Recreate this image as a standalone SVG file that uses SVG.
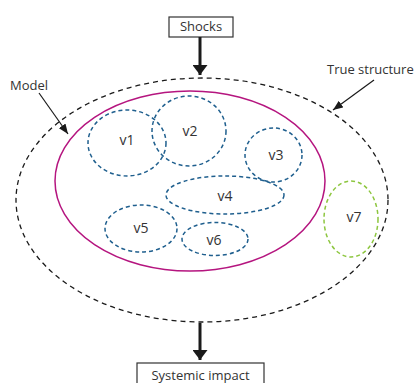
<svg xmlns="http://www.w3.org/2000/svg" width="415" height="383" viewBox="0 0 415 383">
<defs>
<marker id="big" viewBox="0 0 10 15" refX="10" refY="7.5" markerWidth="10" markerHeight="15" markerUnits="userSpaceOnUse" orient="auto">
<path d="M0,0 L10,7.5 L0,15 Z" fill="#1a1a1a"/>
</marker>
<marker id="small" viewBox="0 0 10 8" refX="10" refY="4" markerWidth="10" markerHeight="8" markerUnits="userSpaceOnUse" orient="auto">
<path d="M0,0 L10,4 L0,8 Z" fill="#1a1a1a"/>
</marker>
</defs>
<style>
text{font-family:"Open Sans","Noto Sans",sans-serif;fill:#333;}
.lbl{font-size:13px;}
.v{font-size:14px;text-anchor:middle;}
.box{fill:#fff;stroke:#333;stroke-width:1.2;}
.blue{fill:none;stroke:#1f5f8e;stroke-width:1.5;stroke-dasharray:4 3;}
.green{fill:none;stroke:#8dc63f;stroke-width:1.5;stroke-dasharray:4 3;}
.thick{stroke:#1a1a1a;stroke-width:3;fill:none;}
.thin{stroke:#1a1a1a;stroke-width:1.2;fill:none;}
</style>
<g id="true-structure">
<ellipse cx="202" cy="200" rx="186" ry="122" fill="none" stroke="#1a1a1a" stroke-width="1.3" stroke-dasharray="5 4"/>
</g>
<g id="model">
<ellipse cx="190" cy="181" rx="135" ry="90" fill="none" stroke="#b5157f" stroke-width="1.5"/>
</g>
<g id="v1"><ellipse class="blue" cx="127" cy="143" rx="39" ry="33"/><text class="v" x="127" y="145">v1</text></g>
<g id="v2"><ellipse class="blue" cx="189" cy="131" rx="37" ry="35"/><text class="v" x="190" y="136">v2</text></g>
<g id="v3"><ellipse class="blue" cx="273.5" cy="155" rx="28.5" ry="27"/><text class="v" x="276" y="160">v3</text></g>
<g id="v4"><ellipse class="blue" cx="225" cy="195" rx="59" ry="19"/><text class="v" x="225" y="201">v4</text></g>
<g id="v5"><ellipse class="blue" cx="141" cy="228.5" rx="36" ry="23.5"/><text class="v" x="141" y="233">v5</text></g>
<g id="v6"><ellipse class="blue" cx="215" cy="239" rx="33" ry="16.5"/><text class="v" x="214" y="245">v6</text></g>
<g id="v7"><ellipse class="green" cx="351" cy="219" rx="27" ry="38"/><text class="v" x="354" y="222">v7</text></g>
<g id="shocks"><rect class="box" x="169" y="17" width="64" height="20"/><text class="lbl" x="201" y="31" text-anchor="middle">Shocks</text></g>
<g id="systemic-impact"><rect class="box" x="137" y="363" width="127" height="24"/><text class="lbl" x="200.5" y="380" text-anchor="middle">Systemic impact</text></g>
<g id="model-label"><text class="lbl" x="10" y="90">Model</text></g>
<g id="true-structure-label"><text class="lbl" x="327" y="74">True structure</text></g>
<g id="connectors">
<line class="thick" x1="200" y1="37" x2="200" y2="75" marker-end="url(#big)"/>
<line class="thick" x1="200" y1="323" x2="200" y2="360" marker-end="url(#big)"/>
<line class="thin" x1="39" y1="93" x2="68" y2="134" marker-end="url(#small)"/>
<line class="thin" x1="374" y1="80" x2="333" y2="110" marker-end="url(#small)"/>
</g>
</svg>
